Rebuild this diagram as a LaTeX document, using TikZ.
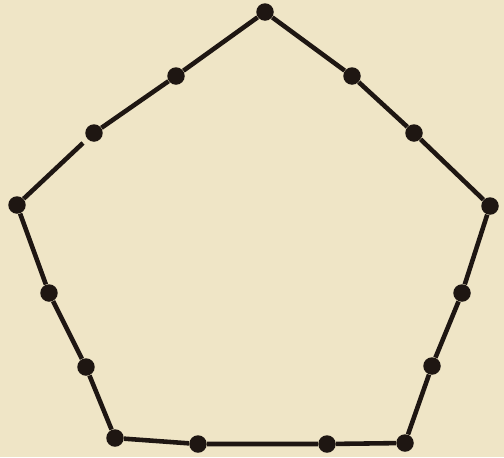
\documentclass[tikz,border=0pt]{standalone}
\usepackage{tikz}
\usetikzlibrary{positioning,backgrounds}
\definecolor{ppaper}{HTML}{EFE5C6}
\definecolor{pline}{HTML}{1E1612}

\begin{document}
\begin{tikzpicture}[
      x=0.02cm, y=-0.02cm,
      dot/.style={circle, fill=pline, draw=none, inner sep=0pt, minimum size=0.35cm},
      edge/.style={draw=pline, line width=2.6pt}
    ]
    \fill[ppaper] (0,0) rectangle (504,457);
    \useasboundingbox (0,0) rectangle (504,457);

    % Corners
    \node[dot] (top) at (265,12) {};
    \node[dot] (rt) at (490,206) {};
    \node[dot] (br) at (405,443) {};
    \node[dot] (bl) at (115,438) {};
    \node[dot] (lt) at (17,205) {};

    % Points on the sides
    \node[dot] (tl1) at (176,76) {};
    \node[dot] (tl2) at (94,133) {};
    \node[dot] (tr1) at (352,76) {};
    \node[dot] (tr2) at (414,133) {};
    \node[dot] (r1) at (462,293) {};
    \node[dot] (r2) at (432,366) {};
    \node[dot] (b1) at (327,444) {};
    \node[dot] (b2) at (198,444) {};
    \node[dot] (l1) at (86,367) {};
    \node[dot] (l2) at (49,293) {};
    \coordinate (gap) at (83,143);

    % Sides
    \draw[edge] (top) -- (tr1) -- (tr2) -- (rt);
    \draw[edge] (rt) -- (r1) -- (r2) -- (br);
    \draw[edge] (br) -- (b1) -- (b2) -- (bl);
    \draw[edge] (bl) -- (l1) -- (l2) -- (lt);
    \draw[edge] (lt) -- (gap);
    \draw[edge] (tl2) -- (tl1) -- (top);
  \end{tikzpicture}
\end{document}
